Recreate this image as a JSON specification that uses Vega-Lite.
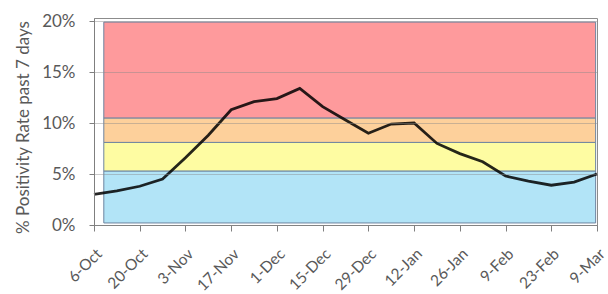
{
  "$schema": "https://vega.github.io/schema/vega-lite/v6.json",
  "width": 503,
  "height": 207,
  "autosize": "none",
  "padding": {"left": 94, "top": 18, "right": 11, "bottom": 69},
  "background": "white",
  "config": {
    "view": {"stroke": "#8c8c8c", "strokeWidth": 1},
    "font": "Lato",
    "axis": {"labelFont": "Lato", "titleFont": "Lato"}
  },
  "datasets": {
    "bands": [
      {"band": "Low", "lo": 0.2, "hi": 5.3, "start": "2020-10-09", "end": "2021-03-08T14:00:00Z"},
      {"band": "Moderate", "lo": 5.3, "hi": 8.1, "start": "2020-10-09", "end": "2021-03-08T14:00:00Z"},
      {"band": "High", "lo": 8.1, "hi": 10.5, "start": "2020-10-09", "end": "2021-03-08T14:00:00Z"},
      {"band": "Very High", "lo": 10.5, "hi": 19.9, "start": "2020-10-09", "end": "2021-03-08T14:00:00Z"}
    ],
    "rate": [
      {"date": "2020-10-06", "pct": 3.0},
      {"date": "2020-10-13", "pct": 3.35},
      {"date": "2020-10-20", "pct": 3.8},
      {"date": "2020-10-27", "pct": 4.5},
      {"date": "2020-11-03", "pct": 6.6},
      {"date": "2020-11-10", "pct": 8.8},
      {"date": "2020-11-17", "pct": 11.3},
      {"date": "2020-11-24", "pct": 12.1},
      {"date": "2020-12-01", "pct": 12.4},
      {"date": "2020-12-08", "pct": 13.4},
      {"date": "2020-12-15", "pct": 11.6},
      {"date": "2020-12-22", "pct": 10.3},
      {"date": "2020-12-29", "pct": 9.0},
      {"date": "2021-01-05", "pct": 9.9},
      {"date": "2021-01-12", "pct": 10.0},
      {"date": "2021-01-19", "pct": 8.0},
      {"date": "2021-01-26", "pct": 7.0},
      {"date": "2021-02-02", "pct": 6.2},
      {"date": "2021-02-09", "pct": 4.8},
      {"date": "2021-02-16", "pct": 4.3},
      {"date": "2021-02-23", "pct": 3.9},
      {"date": "2021-03-02", "pct": 4.2},
      {"date": "2021-03-09", "pct": 5.0}
    ]
  },
  "layer": [
    {
      "data": {"name": "bands"},
      "mark": {"type": "rect", "stroke": "#6d84a0", "strokeWidth": 1},
      "encoding": {
        "x": {
          "field": "start", "type": "temporal",
          "scale": {"type": "utc", "domain": [1601942400000, 1615248000000], "nice": false},
          "axis": {
            "values": [1601942400000, 1602547200000, 1603152000000, 1603756800000, 1604361600000, 1604966400000, 1605571200000, 1606176000000, 1606780800000, 1607385600000, 1607990400000, 1608595200000, 1609200000000, 1609804800000, 1610409600000, 1611014400000, 1611619200000, 1612224000000, 1612828800000, 1613433600000, 1614038400000, 1614643200000, 1615248000000],
            "labelExpr": "round((datum.value - 1601942400000) / 604800000) % 2 == 0 ? utcFormat(datum.value, '%-d-%b') : ''",
            "labelAngle": -45,
            "labelAlign": "right",
            "labelBaseline": "top",
            "labelFontSize": 15.5,
            "labelColor": "#595959",
            "labelPadding": 15,
            "labelOffset": 0,
            "labelOverlap": false,
            "labelBound": false,
            "tickSize": 6,
            "tickColor": "#7f7f7f",
            "domainColor": "#7f7f7f",
            "grid": false,
            "title": null
          }
        },
        "x2": {"field": "end"},
        "y": {
          "field": "lo", "type": "quantitative",
          "scale": {"domain": [0, 20.3], "nice": false, "zero": true},
          "axis": {
            "values": [0, 5, 10, 15, 20],
            "labelExpr": "datum.value + '%'",
            "labelFontSize": 17,
            "labelColor": "#595959",
            "labelPadding": 14,
            "tickSize": 5,
            "tickColor": "#7f7f7f",
            "domainColor": "#7f7f7f",
            "grid": true,
            "gridColor": "#8a8a8a",
            "gridOpacity": 0.45,
            "zindex": 1,
            "title": "% Positivity Rate past 7 days",
            "titleFontSize": 17,
            "titleFontWeight": "normal",
            "titleColor": "#595959",
            "titleAngle": -90,
            "titleBaseline": "middle",
            "titleAlign": "center",
            "titleX": -71,
            "titleY": 109
          }
        },
        "y2": {"field": "hi"},
        "color": {
          "field": "band", "type": "nominal",
          "scale": {"domain": ["Low", "Moderate", "High", "Very High"], "range": ["#b2e4f7", "#fefca2", "#fdd09b", "#fe9a9c"]},
          "legend": null
        }
      }
    },
    {
      "data": {"name": "rate"},
      "mark": {"type": "line", "color": "#000000", "opacity": 0.85, "strokeWidth": 2.8},
      "encoding": {
        "x": {"field": "date", "type": "temporal"},
        "y": {"field": "pct", "type": "quantitative"}
      }
    }
  ]
}
